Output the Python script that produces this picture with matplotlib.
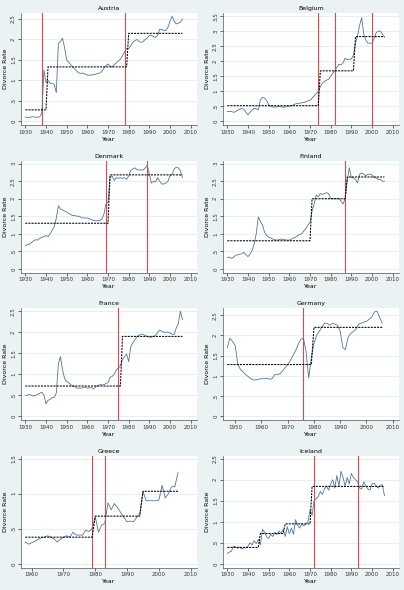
import matplotlib.pyplot as plt
import numpy as np

# divorce rates by country, annual from the start year
austria_start = 1930
austria = [0.10, 0.10, 0.09, 0.11, 0.11, 0.10, 0.10, 0.11, 0.20, 1.25,
           0.95, 1.00, 0.93, 0.93, 0.90, 0.70, 1.90, 1.95, 2.03, 1.80,
           1.50, 1.45, 1.38, 1.32, 1.28, 1.22, 1.18, 1.17, 1.18, 1.15,
           1.13, 1.13, 1.13, 1.14, 1.15, 1.17, 1.18, 1.22, 1.30, 1.36,
           1.40, 1.35, 1.33, 1.38, 1.43, 1.47, 1.52, 1.60, 1.70, 1.78,
           1.78, 1.85, 1.93, 1.97, 2.00, 1.95, 1.93, 1.95, 2.00, 2.04,
           2.10, 2.10, 2.07, 2.05, 2.10, 2.25, 2.25, 2.22, 2.22, 2.30,
           2.45, 2.57, 2.45, 2.38, 2.40, 2.42, 2.50]
austria_levels = [0.28, 1.33, 2.15]
austria_ends = [1940, 1979, 2006]
austria_breaks = [1938, 1978]

belgium_start = 1930
belgium = [0.33, 0.32, 0.33, 0.30, 0.32, 0.37, 0.40, 0.43, 0.40, 0.30,
           0.22, 0.30, 0.38, 0.43, 0.42, 0.38, 0.72, 0.80, 0.77, 0.70,
           0.55, 0.50, 0.48, 0.47, 0.48, 0.50, 0.48, 0.47, 0.48, 0.50,
           0.50, 0.52, 0.55, 0.58, 0.60, 0.60, 0.62, 0.63, 0.65, 0.68,
           0.70, 0.77, 0.85, 0.92, 1.00, 1.15, 1.28, 1.33, 1.37, 1.40,
           1.50, 1.60, 1.68, 1.80, 1.90, 1.88, 1.95, 2.10, 2.05, 2.07,
           2.07, 2.20, 2.60, 2.85, 3.20, 3.45, 2.90, 2.70, 2.60, 2.60,
           2.60, 2.75, 2.95, 3.00, 3.00, 2.90, 2.80]
belgium_levels = [0.52, 1.68, 2.82]
belgium_ends = [1974, 1991, 2006]
belgium_breaks = [1974, 1982, 2000]

denmark_start = 1930
denmark = [0.65, 0.70, 0.70, 0.75, 0.80, 0.83, 0.82, 0.87, 0.90, 0.92,
           0.95, 0.92, 1.00, 1.10, 1.20, 1.45, 1.80, 1.70, 1.68, 1.65,
           1.62, 1.58, 1.55, 1.52, 1.52, 1.50, 1.50, 1.47, 1.45, 1.45,
           1.45, 1.43, 1.40, 1.38, 1.37, 1.37, 1.38, 1.42, 1.55, 1.85,
           1.90, 2.60, 2.65, 2.52, 2.60, 2.58, 2.60, 2.58, 2.60, 2.55,
           2.65, 2.80, 2.85, 2.88, 2.83, 2.82, 2.82, 2.82, 2.88, 2.95,
           2.70, 2.45, 2.50, 2.48, 2.60, 2.50, 2.42, 2.42, 2.45, 2.50,
           2.65, 2.70, 2.85, 2.90, 2.88, 2.80, 2.60]
denmark_levels = [1.30, 2.68]
denmark_ends = [1970, 2006]
denmark_breaks = [1969, 1989]

finland_start = 1930
finland = [0.33, 0.33, 0.30, 0.33, 0.38, 0.40, 0.42, 0.43, 0.47, 0.40,
           0.35, 0.42, 0.52, 0.72, 1.00, 1.48, 1.35, 1.25, 1.05, 0.95,
           0.90, 0.88, 0.85, 0.83, 0.82, 0.83, 0.85, 0.83, 0.83, 0.82,
           0.82, 0.85, 0.88, 0.90, 0.95, 0.98, 1.00, 1.08, 1.15, 1.25,
           1.32, 1.65, 1.85, 2.10, 2.05, 2.15, 2.12, 2.15, 2.17, 2.15,
           2.00, 2.00, 2.00, 2.00, 2.00, 1.93, 1.85, 2.00, 2.50, 2.88,
           2.60, 2.60, 2.55, 2.45, 2.70, 2.73, 2.70, 2.65, 2.70, 2.70,
           2.68, 2.60, 2.60, 2.55, 2.55, 2.50, 2.50]
finland_levels = [0.80, 2.00, 2.62]
finland_ends = [1970, 1987, 2006]
finland_breaks = [1987]

france_start = 1930
france = [0.50, 0.50, 0.52, 0.50, 0.48, 0.50, 0.52, 0.55, 0.57, 0.50,
          0.30, 0.38, 0.40, 0.45, 0.45, 0.55, 1.25, 1.42, 1.10, 0.90,
          0.83, 0.80, 0.75, 0.72, 0.70, 0.67, 0.67, 0.67, 0.68, 0.70,
          0.67, 0.68, 0.68, 0.65, 0.70, 0.73, 0.75, 0.75, 0.75, 0.78,
          0.80, 0.92, 0.95, 1.00, 1.10, 1.15, 1.20, 1.35, 1.42, 1.48,
          1.30, 1.65, 1.75, 1.82, 1.90, 1.93, 1.95, 1.95, 1.92, 1.90,
          1.88, 1.88, 1.90, 1.92, 2.00, 2.05, 2.02, 2.00, 2.00, 2.00,
          1.98, 1.95, 1.95, 2.10, 2.20, 2.50, 2.30]
france_levels = [0.72, 1.90]
france_ends = [1976, 2006]
france_breaks = [1975]

germany_start = 1947
germany = [1.70, 1.93, 1.85, 1.75, 1.28, 1.16, 1.10, 1.03, 0.98, 0.93,
           0.90, 0.90, 0.92, 0.93, 0.93, 0.94, 0.92, 0.93, 1.03, 1.03,
           1.05, 1.12, 1.20, 1.28, 1.38, 1.50, 1.62, 1.78, 1.90, 1.93,
           1.60, 0.95, 1.45, 1.80, 2.00, 2.10, 2.20, 2.30, 2.30, 2.25,
           2.30, 2.28, 2.25, 2.10, 1.70, 1.65, 1.95, 2.05, 2.10, 2.15,
           2.28, 2.30, 2.33, 2.35, 2.40, 2.45, 2.58, 2.60, 2.45, 2.30]
germany_levels = [1.28, 2.20]
germany_ends = [1979, 2006]
germany_breaks = [1976]

greece_start = 1958
greece = [0.31, 0.28, 0.30, 0.32, 0.35, 0.37, 0.38, 0.40, 0.38, 0.36,
          0.31, 0.35, 0.38, 0.40, 0.38, 0.45, 0.41, 0.41, 0.41, 0.48,
          0.46, 0.50, 0.67, 0.45, 0.55, 0.58, 0.87, 0.77, 0.86, 0.80,
          0.73, 0.66, 0.60, 0.61, 0.60, 0.66, 0.72, 1.03, 0.90, 0.90,
          0.90, 0.90, 0.91, 1.12, 0.94, 1.00, 1.10, 1.10, 1.30]
greece_levels = [0.38, 0.68, 1.035]
greece_ends = [1979, 1994, 2006]
greece_breaks = [1979, 1983]

iceland_start = 1930
iceland = [0.25, 0.28, 0.30, 0.42, 0.40, 0.37, 0.40, 0.35, 0.38, 0.38,
           0.42, 0.50, 0.45, 0.55, 0.48, 0.58, 0.45, 0.82, 0.75, 0.65,
           0.60, 0.70, 0.65, 0.75, 0.70, 0.78, 0.72, 0.82, 0.65, 0.88,
           0.72, 0.85, 0.70, 1.05, 0.92, 0.85, 0.95, 0.90, 0.95, 1.00,
           1.28, 1.15, 1.50, 1.55, 1.60, 1.72, 1.65, 1.78, 1.85, 1.75,
           1.90, 2.00, 1.80, 2.10, 1.85, 2.20, 2.05, 1.85, 2.05, 1.90,
           2.15, 2.05, 2.00, 1.95, 1.80, 1.78, 1.95, 1.85, 1.78, 1.75,
           1.90, 1.92, 1.85, 1.80, 1.87, 1.88, 1.62]
iceland_levels = [0.39, 0.72, 0.95, 1.84]
iceland_ends = [1945, 1957, 1970, 2006]
iceland_breaks = [1972, 1993]

panels = [
    ("Austria", austria_start, austria, austria_levels, austria_ends, austria_breaks, 2.5, 1930),
    ("Belgium", belgium_start, belgium, belgium_levels, belgium_ends, belgium_breaks, 3.5, 1930),
    ("Denmark", denmark_start, denmark, denmark_levels, denmark_ends, denmark_breaks, 3.0, 1930),
    ("Finland", finland_start, finland, finland_levels, finland_ends, finland_breaks, 3.0, 1930),
    ("France", france_start, france, france_levels, france_ends, france_breaks, 2.5, 1930),
    ("Germany", germany_start, germany, germany_levels, germany_ends, germany_breaks, 2.5, 1950),
    ("Greece", greece_start, greece, greece_levels, greece_ends, greece_breaks, 1.5, 1960),
    ("Iceland", iceland_start, iceland, iceland_levels, iceland_ends, iceland_breaks, 2.5, 1930),
]

W, H = 404, 590
bg = '#eaf2f3'
fig = plt.figure(figsize=(W / 100, H / 100), dpi=100, facecolor=bg)

def fmt(v):
    s = ('%g' % v)
    return s[1:] if s.startswith('0.') else s

for k, (name, start, vals, levels, ends, breaks, ytop, xtick0) in enumerate(panels):
    col, row = k % 2, k // 2
    x0 = col * 202 + 21
    top = row * 147.5 + 13
    bottom = row * 147.5 + 125
    ax = fig.add_axes([x0 / W, 1 - bottom / H, 176 / W, (bottom - top) / H])
    ax.set_facecolor('white')

    years = np.arange(start, start + len(vals))
    # step series built from the regime means
    counts = np.diff([start - 1] + ends)
    step = np.repeat(levels, counts)

    for b in breaks:
        ax.axvline(b, color='#e2474b', linewidth=0.8, zorder=1)
    ax.plot(years, vals, color='#55749a', linewidth=0.6, zorder=2)
    ax.plot(years, step, color='black', linewidth=0.75, linestyle=(0, (2, 1)), zorder=3)

    yt = np.arange(0, ytop + 0.01, 0.5)
    ax.set_yticks(yt)
    ax.set_yticklabels([fmt(v) for v in yt], rotation=90, va='center', fontsize=4)
    xt = np.arange(xtick0, 2011, 10)
    ax.set_xticks(xt)
    ax.set_xticklabels([str(v) for v in xt], fontsize=4)

    lo = min(start, xtick0)
    span = 2010 - lo
    ax.set_xlim(lo - 0.026 * span, 2010 + 0.038 * span)
    hi = max(max(vals), ytop)
    ax.set_ylim(-0.035 * hi, hi + 0.03 * hi)

    ax.grid(axis='y', color='#e4ecee', linewidth=0.6)
    ax.set_axisbelow(True)
    for s in ['top', 'right']:
        ax.spines[s].set_visible(False)
    for s in ['left', 'bottom']:
        ax.spines[s].set_color('#555555')
        ax.spines[s].set_linewidth(0.5)
    ax.tick_params(length=2, width=0.5, pad=1.5, colors='#333333')

    ax.set_title(name, fontsize=4.5, pad=2)
    ax.set_xlabel("Year", fontsize=4.5, labelpad=1.5)
    ax.set_ylabel("Divorce Rate", fontsize=4.5, labelpad=2)

fig.savefig('out.png', dpi=100, facecolor=bg)
